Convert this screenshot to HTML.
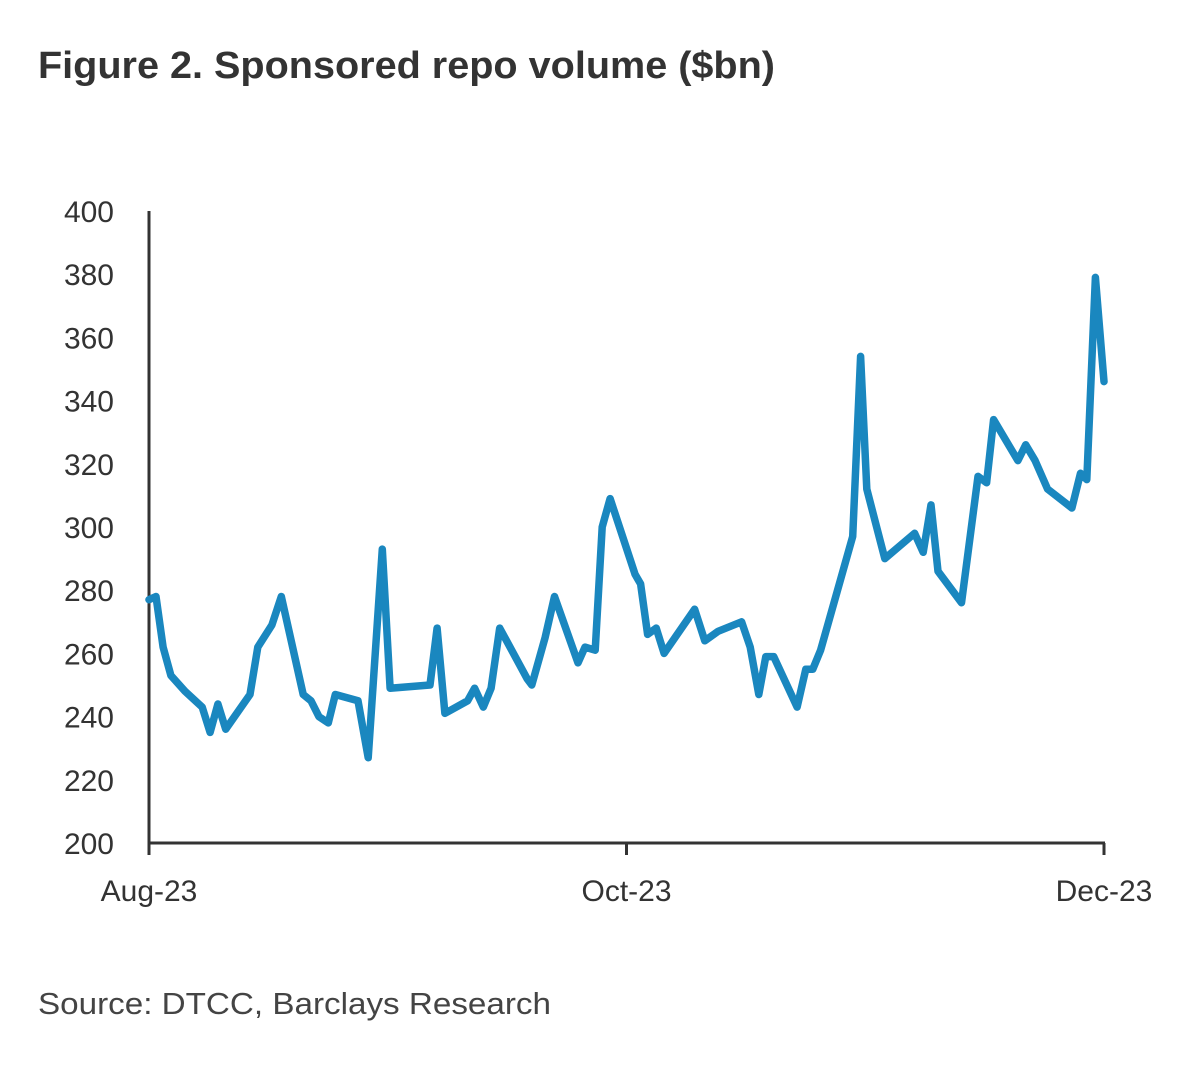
<!DOCTYPE html>
<html><head><meta charset="utf-8"><style>
body{margin:0;background:#fff;width:1200px;height:1078px;overflow:hidden;font-family:"Liberation Sans",sans-serif}
</style></head><body>
<svg width="1200" height="1078" xmlns="http://www.w3.org/2000/svg">
<text x="38" y="78" font-size="38" fill="#333" font-weight="bold" textLength="737" lengthAdjust="spacingAndGlyphs">Figure 2. Sponsored repo volume ($bn)</text>
<g id="yaxis"></g>
<g id="xaxis"></g>
<path id="line" fill="none" stroke="#1a87bf" stroke-width="7.5" stroke-linejoin="round" stroke-linecap="round"/>
<text x="38" y="1014" font-size="31" fill="#444" textLength="513" lengthAdjust="spacingAndGlyphs">Source: DTCC, Barclays Research</text>
</svg>
<script>
const days=[0,0.9,1.8,2.8,4.6,6.8,7.8,8.8,9.8,12.9,13.9,15.7,16.9,19.7,20.7,21.7,22.9,23.8,26.7,28,29.8,30.8,35.9,36.8,37.8,40.7,41.6,42.7,43.7,44.8,48.3,48.9,50.6,51.8,54.8,55.7,57,57.9,58.9,62.1,62.8,63.7,64.8,65.8,69.7,71,72.7,75.7,76.8,77.9,78.8,79.8,82.8,83.9,84.8,85.8,89.9,90.9,91.7,94,97.8,98.9,99.9,100.8,103.8,105.9,107,107.9,111,112,113.2,114.8,117.9,119,119.8,120.9,122];
const values=[277,278,262,253,248,243,235,244,236,247,262,269,278,247,245,240,238,247,245,227,293,249,250,268,241,245,249,243,249,268,252,250,265,278,257,262,261,300,309,285,282,266,268,260,274,264,267,270,262,247,259,259,243,255,255,261,297,354,312,290,298,292,307,286,276,316,314,334,321,326,321,312,306,317,315,379,346];
const yTicks=[200,220,240,260,280,300,320,340,360,380,400];
const xTickDays=[0,61,122];
const xTickLabels=["Aug-23","Oct-23","Dec-23"];
const NS="http://www.w3.org/2000/svg";
const X0=149,X1=1104,Y0=843,Y1=211;
const xs=d=>X0+(d-0)/(122-0)*(X1-X0);
const ys=v=>Y0-(v-200)/(400-200)*(Y0-Y1);
function mk(tag,attrs,parent){const e=document.createElementNS(NS,tag);for(const k in attrs)e.setAttribute(k,attrs[k]);parent.appendChild(e);return e;}
const ya=document.getElementById('yaxis'),xa=document.getElementById('xaxis');
const yl=mk('line',{x1:X0,x2:X0,y1:Y1,y2:Y0+1,stroke:'#333','stroke-width':3},ya);


yTicks.forEach(v=>{const t=mk('text',{x:114,y:ys(v)+11,'text-anchor':'end','font-size':30,fill:'#333'},ya);t.textContent=v;

});
const xl=mk('line',{x1:X0-1,x2:X1+1,y1:Y0,y2:Y0,stroke:'#333','stroke-width':3},xa);


xTickDays.forEach((d,i)=>{const tk=mk('line',{x1:xs(d),x2:xs(d),y1:Y0,y2:Y0+12,stroke:'#333','stroke-width':3},xa);


const t=mk('text',{x:xs(d),y:901,'text-anchor':'middle','font-size':30,fill:'#333'},xa);t.textContent=xTickLabels[i];

});
document.getElementById('line').setAttribute('d',days.map((d,i)=>(i?'L':'M')+xs(d).toFixed(1)+','+ys(values[i]).toFixed(1)).join(''));
</script>
</body></html>
